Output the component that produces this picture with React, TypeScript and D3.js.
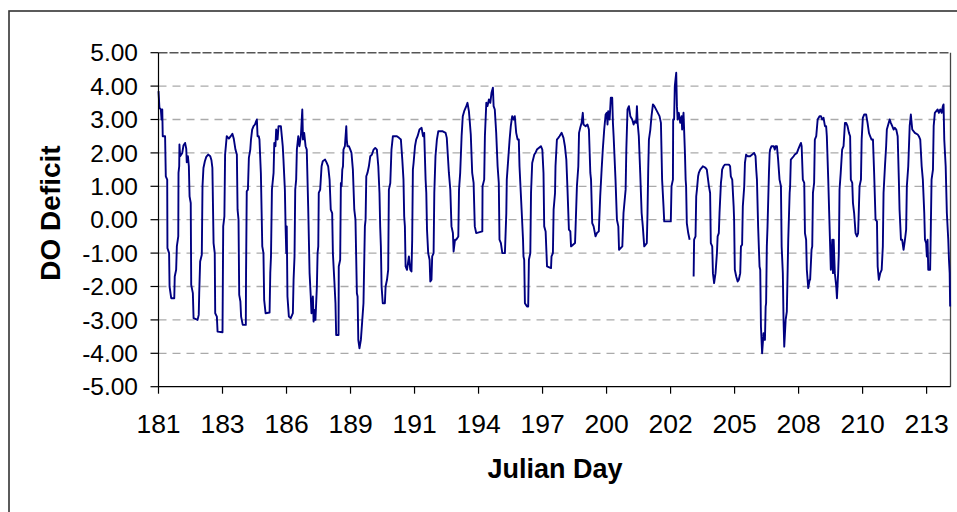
import React from "react";
import * as d3 from "d3";

// ---- Data (Julian day, DO deficit) ----
const daysA: [number, number | null][] = [
  [181.0,3.85],[181.04,3.35],[181.1,3.3],[181.13,3.0],[181.16,3.3],[181.18,2.5],[181.28,2.5],[181.31,1.3],[181.37,1.2],[181.38,-0.85],[181.45,-1.0],[181.47,-2.0],[181.54,-2.35],[181.67,-2.35],[181.69,-1.7],[181.75,-1.5],[181.78,-0.8],[181.84,-0.5],[181.85,1.4],[181.88,1.6],[181.89,2.25],[181.92,1.9],[182.01,2.0],[182.06,2.22],[182.13,2.3],[182.18,2.12],[182.2,1.72],[182.25,1.9],[182.29,1.6],[182.32,0.7],[182.37,0.5],[182.39,-1.95],[182.46,-2.2],[182.49,-2.95],[182.66,-3.0],[182.71,-2.85],[182.73,-2.2],[182.77,-1.25],[182.84,-1.05],[182.87,1.0],[182.91,1.55],[182.97,1.75],[183.03,1.88],[183.11,1.95],[183.2,1.9],[183.25,1.78],[183.29,1.55],[183.34,-0.7],[183.39,-1.0],[183.41,-2.8],[183.48,-2.9],[183.51,-3.35],[183.72,-3.37],[183.75,-0.2],[183.8,0.1],[183.83,1.95],[183.9,2.5],[183.99,2.43],[184.07,2.5],[184.14,2.57],[184.2,2.42],[184.27,2.1],[184.33,1.95],[184.36,0.3],[184.4,0.0],[184.43,-2.25],[184.48,-2.45],[184.51,-2.9],[184.58,-3.15],[184.71,-3.15],[184.72,-1.65],[184.75,0.85],[184.8,0.9],
  [184.84,1.85],[184.9,2.1],[184.93,2.4],[184.98,2.7],[185.04,2.8],[185.1,2.85],[185.15,2.95],[185.18,3.0],[185.21,2.5],[185.26,2.5],[185.29,2.4],[185.35,1.4],[185.41,-0.8],[185.46,-1.0],[185.49,-2.4],[185.55,-2.8],[185.72,-2.78],[185.75,-1.6],[185.78,-1.1],[185.82,0.9],[185.89,1.4],[185.92,2.3],[185.97,2.2],[186.0,2.7],[186.06,2.4],[186.1,2.8],[186.2,2.8],[186.24,2.5],[186.28,2.2],[186.31,1.8],[186.37,0.9],[186.4,-0.2],[186.43,-1.0],[186.45,-0.2],[186.48,-2.3],[186.54,-2.9],[186.62,-2.95],[186.71,-2.8],[186.74,-1.8],[186.78,-1.1],[186.81,0.9],[186.85,1.2],[186.88,2.1],[186.94,2.5],[186.99,2.2],[187.05,2.5],[187.11,3.3],[187.14,2.4],[187.19,2.6],[187.25,2.2],[187.3,2.1],[187.36,0.4],[187.42,-1.6],[187.47,-2.3],[187.5,-2.8],[187.56,-2.3],[187.59,-3.05],[187.64,-2.7],[187.67,-3.0],[187.73,-2.0],[187.76,-1.0],[187.79,-0.8],[187.81,0.8],[187.87,0.9],
];

const daysB: [number, number | null][] = [
  [187.93,1.6],[187.98,1.75],[188.08,1.8],[188.15,1.7],[188.21,1.6],[188.27,1.2],[188.32,0.3],[188.38,0.2],[188.41,-1.0],[188.47,-1.8],[188.52,-2.5],[188.55,-3.45],[188.65,-3.45],[188.66,-1.4],[188.72,-1.2],[188.75,1.1],[188.78,1.0],[188.81,1.5],[188.84,1.6],[188.86,2.1],[188.92,2.2],[188.98,2.8],[189.0,2.4],[189.03,2.2],[189.09,2.2],[189.15,2.1],[189.2,2.0],[189.26,1.5],[189.32,0.3],[189.37,0.0],[189.43,-2.2],[189.46,-2.3],[189.49,-3.6],[189.54,-3.85],[189.6,-3.6],[189.66,-3.0],[189.71,-2.5],[189.77,-0.2],[189.8,0.0],[189.83,1.3],[189.88,1.4],[189.94,1.6],[190.0,1.9],[190.07,1.95],[190.14,2.1],[190.21,2.15],[190.28,2.1],[190.34,1.6],[190.39,0.8],[190.42,-0.2],
  [190.45,-0.8],[190.48,-2.0],[190.53,-2.5],[190.62,-2.5],[190.65,-2.0],[190.71,-1.8],[190.76,-1.5],[190.79,0.9],[190.85,1.1],[190.9,2.1],[190.96,2.5],[191.05,2.5],[191.13,2.5],[191.22,2.45],[191.3,2.4],[191.36,1.8],[191.41,1.2],[191.44,0.1],[191.47,-0.2],[191.5,-1.4],[191.56,-1.5],[191.64,-1.1],[191.7,-1.5],[191.75,-1.55],[191.78,-0.6],[191.81,1.5],[191.84,1.7],[191.9,2.2],[191.95,2.4],[192.01,2.5],[192.09,2.7],[192.18,2.75],[192.24,2.5],[192.29,2.6],[192.35,1.2],[192.38,0.8],[192.41,-0.3],[192.46,-1.0],[192.52,-1.2],[192.55,-1.85],[192.6,-1.8],[192.63,-1.1],[192.69,-1.0],[192.72,0.8],[192.77,1.9],[192.83,2.4],[192.89,2.65],[193.06,2.65],[193.2,2.6],[193.25,2.45],[193.34,1.4],[193.4,0.9],[193.45,-0.2],[193.51,-0.4],[193.54,-0.95],[193.6,-0.6],[193.65,-0.6],[193.74,-0.5],[193.77,0.9],[193.82,1.4],[193.88,2.5],[193.93,3.1],[193.99,3.25],[194.08,3.4],[194.13,3.5],[194.19,3.25],[194.22,3.0],[194.27,2.55],[194.33,1.4],[194.39,1.1],[194.44,-0.2],[194.5,-0.4],[194.76,-0.35],[194.77,1.0],[194.84,1.2],[194.87,2.5],[194.93,3.5],[194.98,3.4],[195.04,3.6],[195.1,3.5],[195.15,3.8],[195.21,3.95],[195.24,3.4],[195.29,3.3],[195.35,2.6],[195.41,1.6],[195.46,1.1],[195.49,-0.6],[195.55,-0.7],[195.61,-1.0],[195.72,-1.0],[195.75,-0.4],[195.78,0.2],[195.8,1.2],[195.86,1.8],[195.92,2.4],[195.97,2.8],[196.03,3.1],[196.09,3.0],[196.14,3.1],[196.2,2.6],[196.26,2.4],[196.31,2.4],[196.34,1.6],
];

const daysC: [number, number | null][] = [
  [196.43,0.3],[196.49,-0.6],[196.51,-1.1],[196.54,-1.2],[196.57,-2.5],[196.66,-2.6],[196.71,-2.6],[196.74,-1.2],[196.8,-1.0],[196.83,0.8],[196.88,1.7],[196.97,1.95],[197.02,2.0],[197.08,2.1],[197.25,2.2],[197.31,2.1],[197.36,1.4],[197.39,-0.2],[197.45,-0.35],[197.51,-1.4],[197.68,-1.45],[197.7,-1.1],[197.76,-1.0],[197.79,0.3],[197.85,0.8],[197.87,1.6],[197.93,2.4],[197.99,2.45],[198.04,2.5],[198.13,2.6],[198.21,2.45],[198.27,2.2],[198.33,1.8],[198.38,0.9],[198.44,-0.3],[198.5,-0.35],[198.53,-0.8],[198.7,-0.7],[198.72,-0.3],[198.78,1.0],[198.84,1.6],[198.87,2.6],[198.92,2.75],[198.98,2.9],[199.03,3.2],[199.06,2.85],[199.15,2.8],[199.23,2.85],[199.29,2.7],[199.35,1.4],[199.38,1.2],[199.43,-0.1],[199.49,-0.2],[199.57,-0.5],[199.63,-0.4],[199.71,-0.35],[199.77,0.7],[199.83,1.5],[199.88,2.1],[199.94,2.7],[200.0,3.15],[200.05,3.2],[200.08,2.85],[200.11,3.25],[200.17,3.0],[200.22,3.65],[200.28,3.65],[200.31,2.9],[200.34,2.5],[200.42,1.2],[200.48,0.0],[200.54,-0.2],[200.57,-0.9],[200.71,-0.8],[200.76,0.2],[200.85,0.9],[200.88,2.1],[200.93,3.3],[200.99,3.4],[201.05,3.1],[201.13,3.0],[201.19,2.85],[201.24,2.95],[201.3,2.9],[201.33,3.4],[201.36,2.9],[201.41,2.5],[201.47,1.4],[201.53,0.2],[201.58,-0.2],[201.64,-0.8],[201.75,-0.7],[201.78,0.2],[201.81,1.5],[201.84,2.4],[201.9,2.7],[201.95,3.1],[202.01,3.45],[202.07,3.4],[202.18,3.25],[202.29,3.1],[202.35,2.9],
  [202.4,1.2],[202.46,0.4],[202.49,-0.05],[202.77,-0.05],[202.8,1.0],[202.86,1.2],[202.87,3.0],[202.91,3.0],[202.94,4.0],[202.97,4.2],[203.0,4.4],[203.03,3.4],[203.06,3.0],[203.11,3.2],[203.17,2.9],[203.23,3.1],[203.25,2.7],[203.31,3.2],[203.34,2.6],[203.37,2.0],[203.4,1.2],[203.42,1.0],[203.45,-0.1],[203.51,-0.4],[203.57,-0.6],
  [203.65,null],
  [203.74,-1.7],[203.76,-0.6],[203.82,-0.5],[203.85,0.7],[203.88,0.9],[203.93,1.3],[203.96,1.4],[204.02,1.5],[204.08,1.55],[204.13,1.6],[204.25,1.55],[204.3,1.5],[204.39,1.0],[204.44,0.8],[204.47,-0.7],[204.53,-0.8],[204.56,-1.6],[204.61,-1.9],[204.67,-1.6],[204.73,-1.0],[204.76,-0.5],[204.81,-0.4],[204.84,0.2],[204.9,1.1],[204.93,1.3],[204.95,1.5],[205.01,1.6],[205.07,1.65],[205.24,1.65],[205.29,1.6],[205.32,1.3],[205.38,1.2],[205.44,0.4],[205.46,0.0],[205.49,-1.5],[205.55,-1.7],[205.61,-1.85],[205.66,-1.8],[205.72,-1.6],[205.75,-0.8],[205.8,-0.75],[205.83,0.4],[205.89,1.0],[205.92,1.7],[205.97,1.95],[206.03,1.9],[206.14,1.9],[206.23,1.95],[206.31,2.0],[206.37,1.9],[206.4,1.5],[206.43,1.2],[206.48,-0.2],[206.54,-1.4],[206.57,-1.5],[206.6,-3.2],[206.65,-4.0],[206.71,-3.4],[206.77,-3.6],[206.8,-2.6],[206.82,-2.5],[206.85,-0.8],[206.88,-0.2],[206.94,1.4],[206.97,2.0],[206.99,2.1],[207.05,2.2],[207.14,2.2],[207.19,2.1],[207.22,2.2],[207.28,2.2],[207.33,1.8],[207.39,1.2],[207.45,1.0],[207.48,-0.8],[207.53,-1.6],[207.56,-3.0],[207.59,-3.8],[207.65,-3.0],[207.7,-2.75],[207.76,-0.6],[207.82,0.8],[207.84,1.0],[207.87,1.8],[207.99,1.9],[208.04,1.95],[208.13,2.0],[208.18,2.1],[208.24,2.2],[208.3,2.3],
];

const daysD: [number, number | null][] = [
  [208.33,2.2],[208.38,1.2],[208.44,1.1],[208.47,-0.4],[208.52,-0.6],[208.55,-1.5],[208.61,-2.05],[208.67,-1.8],[208.69,-1.8],[208.75,-0.9],[208.78,-0.8],[208.81,0.8],[208.86,1.1],[208.89,2.4],[208.95,2.5],[209.01,3.0],[209.09,3.1],[209.15,3.1],[209.2,3.0],[209.26,3.05],[209.32,2.8],[209.37,2.8],[209.4,2.5],[209.46,1.2],[209.52,-0.3],[209.57,-1.5],[209.63,-0.6],[209.66,-1.6],[209.69,-0.6],[209.74,-1.6],[209.8,-2.0],[209.83,-2.35],[209.88,-1.6],[209.91,-1.0],[209.94,0.9],[209.99,1.4],[210.05,2.1],[210.11,2.2],[210.17,2.9],[210.22,2.9],[210.28,2.8],[210.34,2.6],[210.39,2.5],[210.42,1.2],[210.48,1.1],[210.51,0.5],[210.56,0.2],[210.62,-0.4],[210.68,-0.5],[210.73,-0.4],[210.79,1.0],[210.85,1.2],[210.88,2.4],[210.93,3.05],[210.99,3.15],[211.07,3.15],[211.13,2.9],[211.19,2.6],[211.24,2.5],[211.3,2.4],[211.36,2.4],[211.41,1.4],[211.47,0.0],[211.53,-0.05],[211.56,-1.4],[211.61,-1.8],[211.67,-1.6],[211.73,-1.5],[211.78,-0.8],[211.81,0.8],[211.87,1.6],[211.92,2.2],[211.95,2.7],[212.01,2.85],[212.07,3.0],[212.12,2.9],[212.18,2.8],[212.24,2.7],[212.29,2.75],[212.35,2.7],[212.41,2.5],[212.46,1.2],[212.49,0.3],[212.55,-0.6],[212.6,-0.6],[212.66,-0.9],[212.72,-0.6],[212.77,-0.3],[212.8,1.0],[212.86,1.6],[212.92,2.8],[212.97,3.15],[213.03,2.7],[213.14,2.6],[213.26,2.55],[213.31,2.5],[213.37,2.4],[213.43,1.6],[213.48,1.2],[213.54,0.2],[213.57,-0.6],[213.62,-0.7],[213.65,-1.1],[213.68,-0.6],[213.71,-1.5],[213.79,-1.5],[213.82,-0.2],[213.85,1.2],[213.91,1.5],[213.94,2.8],[213.99,3.2],[214.05,3.25],[214.11,3.3],[214.16,3.2],[214.22,3.3],[214.28,3.2],[214.33,3.4],[214.36,3.45],[214.39,2.4],[214.45,1.6],[214.5,0.2],[214.56,-0.6],[214.59,-1.2],[214.62,-1.6],[214.64,-2.6],
];

// Category-axis tick labels (one tick every 2.72 days, shown truncated)
const xTickLabels = [181, 183, 186, 189, 191, 194, 197, 200, 202, 205, 208, 210, 213];
const xTickStepDays = 2.72;
const xStartDay = 181;
const xEndDay = 214.655;
const yTicks = [5, 4, 3, 2, 1, 0, -1, -2, -3, -4, -5];

const W = 957;
const H = 512;
const plot = { left: 158.5, right: 950.5, top: 52.7, bottom: 386.7 };
const FONT = "'Liberation Sans', Arial, Helvetica, sans-serif";

export default function App() {
  const series = [...daysA, ...daysB, ...daysC, ...daysD];
  const x = d3.scaleLinear().domain([xStartDay, xEndDay]).range([plot.left, plot.right]);
  const y = d3.scaleLinear().domain([-5, 5]).range([plot.bottom, plot.top]);
  const line = d3
    .line<[number, number | null]>()
    .defined((d) => d[1] !== null)
    .x((d) => x(d[0]))
    .y((d) => y(d[1] as number));

  const xTicks = xTickLabels.map((lab, i) => ({ lab, v: xStartDay + i * xTickStepDays }));

  return (
    <div style={{ position: "fixed", left: 0, top: 0, width: W, height: H, background: "#fff" }}>
      <svg width={W} height={H} style={{ display: "block" }} fontFamily={FONT}>
        <rect x={0} y={0} width={W} height={H} fill="#fff" />
        {/* outer chart frame */}
        <rect x={9} y={11} width={W + 20} height={H + 20} fill="none" stroke="#333" strokeWidth={1.6} />

        {/* gridlines */}
        {yTicks.filter((t) => t !== -5 && t !== 5).map((t) => (
          <line key={"g" + t} x1={plot.left} x2={plot.right} y1={y(t)} y2={y(t)}
            stroke="#aaaaaa" strokeWidth={1.3} strokeDasharray="8 6" />
        ))}
        {/* plot-area top and right edges */}
        <line x1={plot.left} x2={plot.right} y1={y(5)} y2={y(5)} stroke="#555" strokeWidth={1.4} strokeDasharray="9 2" />
        <line x1={plot.right} x2={plot.right} y1={plot.top} y2={plot.bottom} stroke="#444" strokeWidth={1.3} />

        {/* data line */}
        <path d={line(series) || ""} fill="none" stroke="#000080" strokeWidth={1.9} strokeLinejoin="round" />

        {/* y axis */}
        <line x1={plot.left} x2={plot.left} y1={plot.top} y2={plot.bottom} stroke="#000" strokeWidth={1.2} />
        {yTicks.map((t) => (
          <g key={"y" + t}>
            <line x1={plot.left - 8} x2={plot.left} y1={y(t)} y2={y(t)} stroke="#000" strokeWidth={1.2} />
            <text x={138} y={y(t)} dy="0.355em" textAnchor="end" fontSize={24.5} fill="#000">
              {t.toFixed(2)}
            </text>
          </g>
        ))}

        {/* x axis */}
        <line x1={plot.left} x2={plot.right} y1={plot.bottom} y2={plot.bottom} stroke="#000" strokeWidth={1.2} />
        {xTicks.map((t) => (
          <g key={"x" + t.lab}>
            <line x1={x(t.v)} x2={x(t.v)} y1={plot.bottom} y2={plot.bottom + 7} stroke="#000" strokeWidth={1.2} />
            <text x={x(t.v)} y={433} textAnchor="middle" fontSize={26.5} fill="#000">
              {t.lab}
            </text>
          </g>
        ))}

        {/* axis titles */}
        <text x={555} y={478} textAnchor="middle" fontSize={27} fontWeight="bold" fill="#000">
          Julian Day
        </text>
        <text transform="translate(60,213) rotate(-90)" textAnchor="middle" fontSize={28} fontWeight="bold" fill="#000">
          DO Deficit
        </text>
      </svg>
    </div>
  );
}
